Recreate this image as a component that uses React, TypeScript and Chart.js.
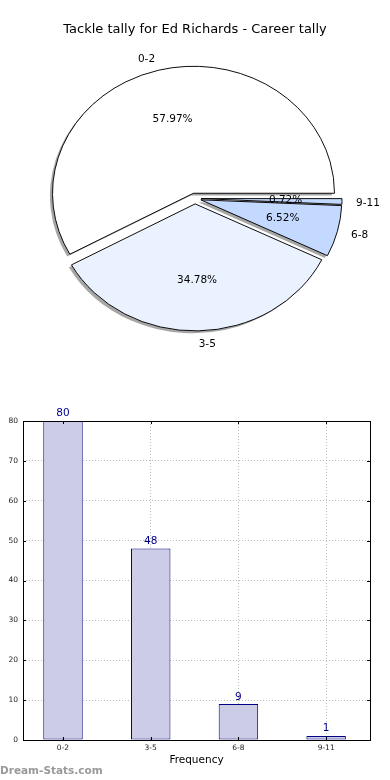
import React, { useEffect, useRef } from 'react';
import { Chart, registerables } from 'chart.js';

Chart.register(...registerables);

const TITLE = 'Tackle tally for Ed Richards - Career tally';
const categories = ['0-2', '3-5', '6-8', '9-11'];
const counts = [80, 48, 9, 1];
const sliceColors = ['#FFFFFF', '#EBF2FF', '#C4D9FF', '#C4D9FF'];
const X_TITLE = 'Frequency';
const WATERMARK = 'Dream-Stats.com';
const Y_MIN = 0;
const Y_MAX = 80;
const Y_STEP = 10;

const FONT = '"DejaVu Sans", sans-serif';
const SY = 127 / 141; // vertical squash of the pie (ellipse)
const EXPLODE = 6;
const SHADOW = 2.6;

const piePlugin = {
  id: 'pieDecor',
  beforeDatasetsDraw(chart: any) {
    const ctx = chart.ctx as CanvasRenderingContext2D;
    const arcs = chart.getDatasetMeta(0).data as any[];
    if (!arcs.length) return;
    const cx = arcs[0].x;
    const cy = arcs[0].y;
    ctx.save();
    ctx.translate(cx, cy);
    ctx.scale(1, SY);
    ctx.translate(-cx, -cy);
    arcs.forEach((arc) => {
      const mid = (arc.startAngle + arc.endAngle) / 2;
      const ox = cx + Math.cos(mid) * EXPLODE - SHADOW;
      const oy = cy + Math.sin(mid) * EXPLODE + SHADOW;
      ctx.beginPath();
      ctx.moveTo(ox, oy);
      ctx.arc(ox, oy, arc.outerRadius, arc.startAngle, arc.endAngle);
      ctx.closePath();
      ctx.fillStyle = 'rgba(77,77,77,0.5)';
      ctx.fill();
    });
    arcs.forEach((arc) => {
      const mid = (arc.startAngle + arc.endAngle) / 2;
      ctx.save();
      ctx.translate(Math.cos(mid) * EXPLODE, Math.sin(mid) * EXPLODE);
      arc.draw(ctx);
      ctx.restore();
    });
    ctx.restore();
    return false;
  },
  afterDraw(chart: any) {
    const ctx = chart.ctx as CanvasRenderingContext2D;
    const arcs = chart.getDatasetMeta(0).data as any[];
    const labels = chart.data.labels as string[];
    const values = chart.data.datasets[0].data as number[];
    const total = values.reduce((a, b) => a + b, 0);
    ctx.save();
    ctx.font = `10.5px ${FONT}`;
    ctx.fillStyle = '#000';
    ctx.textBaseline = 'middle';
    arcs.forEach((arc, i) => {
      const cx = arc.x;
      const cy = arc.y;
      const r = arc.outerRadius;
      const mid = (arc.startAngle + arc.endAngle) / 2;
      const c = Math.cos(mid);
      const s = Math.sin(mid);
      const bx = cx + c * EXPLODE;
      const by = cy + s * EXPLODE * SY;
      ctx.textAlign = c > 0 ? 'left' : 'right';
      ctx.fillText(labels[i], bx + 1.1 * r * c, by + 1.1 * r * SY * s + 1);
      ctx.textAlign = 'center';
      const pct = ((values[i] / total) * 100).toFixed(2) + '%';
      ctx.fillText(pct, bx + 0.6 * r * c, by + 0.6 * r * SY * s);
    });
    ctx.restore();
  },
};

const barPlugin = {
  id: 'barDecor',
  afterDraw(chart: any) {
    const ctx = chart.ctx as CanvasRenderingContext2D;
    const { left, top, right, bottom } = chart.chartArea;
    const xs = chart.scales.x;
    const ys = chart.scales.y;
    ctx.save();
    ctx.strokeStyle = '#000';
    ctx.lineWidth = 1;
    // inward tick marks
    ctx.beginPath();
    xs.ticks.forEach((t: any) => {
      const px = Math.round(xs.getPixelForValue(t.value)) + 0.5;
      ctx.moveTo(px, bottom);
      ctx.lineTo(px, bottom - 3);
      ctx.moveTo(px, top);
      ctx.lineTo(px, top + 3);
    });
    ys.ticks.forEach((t: any) => {
      const py = Math.round(ys.getPixelForValue(t.value)) + 0.5;
      ctx.moveTo(left, py);
      ctx.lineTo(left + 3, py);
      ctx.moveTo(right, py);
      ctx.lineTo(right - 3, py);
    });
    ctx.stroke();
    ctx.strokeRect(Math.round(left) + 0.5, Math.round(top) + 0.5, Math.round(right - left), Math.round(bottom - top));
    // value labels
    const bars = chart.getDatasetMeta(0).data as any[];
    ctx.font = `10.5px ${FONT}`;
    ctx.fillStyle = '#00008B';
    ctx.textAlign = 'center';
    ctx.textBaseline = 'bottom';
    bars.forEach((b, i) => {
      ctx.fillText(String(counts[i]), b.x, b.y - 2);
    });
    ctx.restore();
  },
};

export default function App() {
  const pieRef = useRef<HTMLCanvasElement>(null);
  const barRef = useRef<HTMLCanvasElement>(null);

  useEffect(() => {
    const revLabels = [...categories].reverse();
    const revCounts = [...counts].reverse();
    const revColors = [...sliceColors].reverse();
    const pie = new Chart(pieRef.current as HTMLCanvasElement, {
      type: 'pie',
      data: {
        labels: revLabels,
        datasets: [
          {
            data: revCounts,
            backgroundColor: revColors,
            borderColor: '#000',
            borderWidth: 1,
            offset: 0,
          },
        ],
      },
      options: {
        animation: false,
        responsive: false,
        maintainAspectRatio: false,
        rotation: 90,
        radius: 141,
        layout: { padding: { top: 0, left: 0, right: 0, bottom: 30.6 } },
        plugins: {
          legend: { display: false },
          tooltip: { enabled: false },
          title: {
            display: true,
            text: TITLE,
            color: '#000',
            font: { family: FONT, size: 13, weight: 'normal' },
            padding: { top: 22, bottom: 0 },
          },
        },
      } as any,
      plugins: [piePlugin as any],
    });

    const barData = categories.map((_, i) => ({ x: i, y: counts[i] }));
    const bar = new Chart(barRef.current as HTMLCanvasElement, {
      type: 'bar',
      data: {
        datasets: [
          {
            data: barData as any,
            backgroundColor: '#CCCCE6',
            borderColor: '#000080',
            borderWidth: 1,
            borderSkipped: false,
            categoryPercentage: 1,
            barPercentage: 0.45,
          },
        ],
      },
      options: {
        animation: false,
        responsive: false,
        maintainAspectRatio: false,
        layout: { padding: { top: 31, right: 20, left: 0, bottom: 0 } },
        plugins: { legend: { display: false }, tooltip: { enabled: false } },
        scales: {
          x: {
            type: 'linear',
            offset: false,
            min: -0.456,
            max: 3.5,
            z: 1,
            afterFit: (s: any) => {
              s.height = 40;
            },
            ticks: {
              stepSize: 1,
              includeBounds: false,
              autoSkip: false,
              maxRotation: 0,
              padding: 4,
              color: '#222',
              font: { family: FONT, size: 7.5 },
              callback: (v: any) => categories[v] ?? '',
            },
            grid: { color: '#aaaaaa', lineWidth: 0.8, drawTicks: false, offset: false },
            border: { display: false, dash: [1, 2] },
            title: {
              display: true,
              text: X_TITLE,
              color: '#000',
              font: { family: FONT, size: 10.5 },
              padding: { top: 0, bottom: 13.7 },
            },
          },
          y: {
            min: Y_MIN,
            max: Y_MAX,
            z: 1,
            afterFit: (s: any) => {
              s.width = 23;
            },
            ticks: {
              stepSize: Y_STEP,
              padding: 5,
              color: '#222',
              font: { family: FONT, size: 7.5 },
            },
            grid: { color: '#aaaaaa', lineWidth: 0.8, drawTicks: false },
            border: { display: false, dash: [1, 2] },
          },
        },
      } as any,
      plugins: [barPlugin as any],
    });

    return () => {
      pie.destroy();
      bar.destroy();
    };
  }, []);

  return (
    <div style={{ position: 'fixed', left: 0, top: 0, width: 390, height: 780, background: '#fff' }}>
      <canvas ref={pieRef} width={390} height={390} style={{ position: 'absolute', left: 0, top: 0, width: 390, height: 390 }} />
      <canvas ref={barRef} width={390} height={390} style={{ position: 'absolute', left: 0, top: 390, width: 390, height: 390 }} />
      <div
        style={{
          position: 'absolute',
          left: 0,
          top: 762,
          fontFamily: FONT,
          fontWeight: 'bold',
          fontSize: 10.5,
          lineHeight: '16px',
          color: '#999',
          whiteSpace: 'nowrap',
        }}
      >
        {WATERMARK}
      </div>
    </div>
  );
}
